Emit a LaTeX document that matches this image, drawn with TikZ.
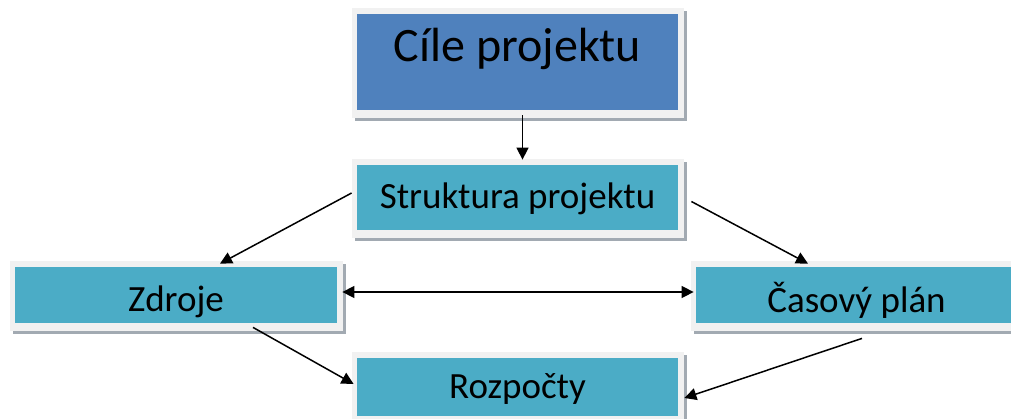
\documentclass[tikz,border=0pt]{standalone}
\usepackage{fontspec}
\setmainfont{Carlito}
\usetikzlibrary{backgrounds,calc,arrows.meta}
\definecolor{topblue}{HTML}{4F81BD}
\definecolor{cyanbox}{HTML}{4BACC6}
\definecolor{framegray}{HTML}{F1F1F1}
\definecolor{shadowgray}{HTML}{A2AAB2}
\begin{document}
\begin{tikzpicture}[x=0.5pt,y=-0.5pt,
  box/.style={fill=cyanbox, inner sep=0pt, text=black, minimum width=160.5pt,
    font=\fontsize{18.5}{22}\selectfont, text depth=0pt},
  arr/.style={line width=0.75pt, -{Triangle[length=6pt,width=6pt]}},
  dblarr/.style={line width=0.75pt, {Triangle[length=6pt,width=6pt]}-{Triangle[length=6pt,width=6pt]}}]
\useasboundingbox (0,0) rectangle (1011,418);
\node[box, fill=topblue, minimum height=48pt, text height=0pt, text depth=0.5pt,
  font=\fontsize{24}{28}\selectfont] (cile) at (517.5,62) {Cíle projektu};
\node[box, minimum height=32.5pt, text height=10.5pt] (strukt) at (517.5,197.5) {Struktura projektu};
\node[box, minimum width=161pt, minimum height=28pt, text height=16pt] (zdroje) at (176,295) {Zdroje};
\node[box, minimum height=28pt, text height=17pt] (casovy) at (856.5,295) {Časový plán};
\node[box, minimum height=29pt, text height=11pt] (rozpocty) at (517.5,387) {Rozpočty};
\begin{pgfonlayer}{background}
\foreach \n in {cile,strukt,zdroje,casovy,rozpocty}{
  \fill[shadowgray] ($(\n.north west)+(-2,-3)$) rectangle ($(\n.south east)+(9,11)$);
  \fill[framegray] ($(\n.north west)+(-5,-6)$) rectangle ($(\n.south east)+(6,8)$);
}
\end{pgfonlayer}
\draw[arr] ($(cile.south)+(5,5)$) -- ($(strukt.north)+(5,-5)$);
\draw[arr] ($(strukt.west)+(-5,-4.5)$) -- ($(zdroje.north)+(44,-3)$);
\draw[arr] ($(strukt.east)+(13,4)$) -- ($(casovy.north)+(-48.5,-3)$);
\draw[dblarr] ($(zdroje.east)+(5,-3)$) -- ($(casovy.west)+(-2,-3)$);
\draw[arr] ($(zdroje.south)+(77,4)$) -- ($(rozpocty.west)+(-3,-3)$);
\draw[arr] ($(casovy.south)+(5.5,15)$) -- ($(rozpocty.east)+(6,11)$);
\end{tikzpicture}
\end{document}
